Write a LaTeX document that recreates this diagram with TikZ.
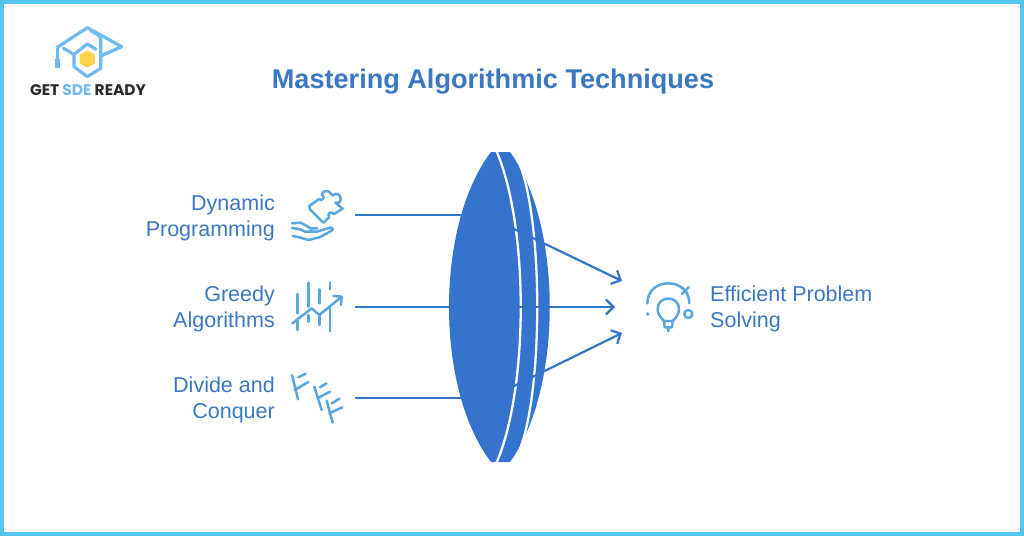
\documentclass[tikz,border=0pt]{standalone}
\usepackage{fontspec}
\setmainfont{Liberation Sans}
\newfontfamily\logofont{Poppins}
\usetikzlibrary{arrows.meta}
\definecolor{framec}{HTML}{55C6F4}
\definecolor{lensc}{HTML}{3574CE}
\definecolor{linec}{HTML}{3574CB}
\definecolor{textc}{HTML}{3B78C2}
\definecolor{iconc}{HTML}{5AA6E0}
\definecolor{logoc}{HTML}{6FB9F5}
\definecolor{hexc}{HTML}{FBD34D}
\definecolor{darkc}{HTML}{2B2B2B}
\tikzset{
  labelL/.style={align=right,anchor=east,font=\fontsize{21.5}{26}\selectfont,text=textc,inner sep=0pt},
  labelR/.style={align=left,anchor=west,font=\fontsize{21.5}{26}\selectfont,text=textc,inner sep=0pt},
  conn/.style={draw=linec,line width=2.2pt},
  connarrow/.style={conn,-{Straight Barb[length=7.5pt,width=15pt,line width=2.2pt]}},
  icon/.style={draw=iconc,line width=2.5pt,line cap=round,line join=round},
  logoline/.style={draw=logoc,line width=3.2pt,line join=round,line cap=round},
  whitearc/.style={draw=white,line width=2.3pt}
}
\begin{document}
\begin{tikzpicture}[x=1pt,y=-1pt]
\useasboundingbox (0,0) rectangle (1024,536);
\fill[white] (0,0) rectangle (1024,536);
\draw[framec,line width=3.6pt] (1.8,1.8) rectangle (1022.2,534.2);

% logo
\begin{scope}[shift={(0,0)},x=0.3333pt,y=-0.3333pt]
  \draw[logoline] (172,142) -- (262,83) -- (365,140) -- (302,168);
  \draw[logoline] (190,145) -- (222,163) -- (222,200) -- (262,230) -- (302,205) -- (302,118) .. controls (302,105) and (285,100) .. (272,92);
  \draw[logoline] (222,163) -- (262,132) -- (288,148);
  \draw[logoline] (172,142) -- (172,190);
  \draw[logoc,line width=4.6pt] (172,178) -- (172,203);
  \fill[hexc] (262,151) -- (285,164) -- (285,190) -- (262,203) -- (239,190) -- (239,164) -- cycle;
\end{scope}
\node[inner sep=0pt,anchor=center,font=\logofont\bfseries\fontsize{15.4}{18}\selectfont,text=darkc] (logotext) at (88,90) {GET \textcolor{logoc}{SDE} READY};

% title
\node[inner sep=0pt,font=\bfseries\fontsize{27.1}{32}\selectfont,text=textc] (title) at (493,82) {Mastering Algorithmic Techniques};

% labels
\node[labelL] (dp) at (275,218) {Dynamic\\Programming};
\node[labelL] (ga) at (275,309) {Greedy\\Algorithms};
\node[labelL] (dc) at (275,400) {Divide and\\Conquer};
\node[labelR] (eps) at (710,309) {Efficient Problem\\Solving};

% connector ends
\coordinate (in1) at (355,215);
\coordinate (in2) at (355,307);
\coordinate (in3) at (355,398);
\coordinate (lens1) at (470,215);
\coordinate (lens2) at (470,307);
\coordinate (lens3) at (470,398);
\coordinate (rayA) at (510,227);
\coordinate (rayB) at (510,307);
\coordinate (rayC) at (510,388);
\coordinate (outA) at (622,281);
\coordinate (outB) at (615,307);
\coordinate (outC) at (622,333);

% lens
\fill[lensc] (491,152) .. controls (435,225) and (435,389) .. (491,462) -- (510,462)
  .. controls (563,389) and (563,225) .. (510,152) -- cycle;
\draw[whitearc] (496,150) .. controls (529,225) and (529,389) .. (496,464);
\draw[whitearc] (520,165) .. controls (543,225) and (543,389) .. (520,449);

\draw[conn] (in1) -- (lens1);
\draw[conn] (in2) -- (lens2);
\draw[conn] (in3) -- (lens3);
\draw[connarrow] (rayA) -- (outA);
\draw[connarrow] (rayB) -- (outB);
\draw[connarrow] (rayC) -- (outC);

% puzzle + hand
\begin{scope}[shift={(280,180)},x=0.3333pt,y=-0.3333pt]
  \draw[icon] (88,78) -- (116,58) .. controls (132,64) and (134,50) .. (126,44)
    .. controls (126,30) and (148,30) .. (152,40) -- (158,47)
    .. controls (165,36) and (184,42) .. (182,58) .. controls (181,70) and (170,71) .. (166,68)
    -- (188,86) -- (162,102) .. controls (155,93) and (140,98) .. (147,112) -- (130,128)
    -- (90,88) -- cycle;
  \draw[icon] (36,130) -- (62,128) -- (92,145) -- (112,145)
    (36,144) -- (60,148) -- (75,155) -- (110,155) -- (150,143) .. controls (162,143) and (160,150) .. (150,155)
    -- (118,172) -- (85,180) -- (58,172) -- (38,168)
    (92,145) -- (95,155);
\end{scope}

% greedy icon
\begin{scope}[shift={(280,270)},x=0.3333pt,y=-0.3333pt]
  \draw[icon] (52,72) -- (52,130) (52,150) -- (52,180)
    (85,38) -- (85,110) (85,135) -- (85,155)
    (118,58) -- (118,100) (118,135) -- (118,165)
    (150,37) -- (150,58) (150,110) -- (150,184);
  \draw[icon] (37,160) -- (95,115) -- (118,135) -- (185,80)
    (160,78) -- (185,80) -- (183,105);
\end{scope}

% divide icon
\begin{scope}[shift={(280,270)},x=0.3333pt,y=-0.3333pt]
  \draw[icon] (36,315) -- (54,388) (44,360) -- (85,336) (55,322) -- (77,311);
  \draw[icon] (103,350) -- (125,420) (112,385) -- (150,365) (120,352) -- (140,340);
  \draw[icon] (140,392) -- (158,458) (148,430) -- (187,412) (155,400) -- (178,386);
\end{scope}

% bulb
\begin{scope}[shift={(630,270)},x=0.3333pt,y=-0.3333pt]
  \draw[icon] (52,100) .. controls (52,20) and (178,20) .. (178,100);
  \draw[icon] (155,72) -- (176,52) (158,55) -- (172,70);
  \fill[iconc] (53,132) circle (1.9pt);
  \draw[icon] (175,132) circle (4pt);
  \draw[icon] (102,153) .. controls (90,142) and (83,130) .. (83,117)
    .. controls (83,75) and (147,75) .. (147,117) .. controls (147,130) and (140,142) .. (128,153) -- cycle;
  \draw[icon] (102,153) -- (104,172) -- (126,172) -- (128,153) (115,172) -- (115,184);
\end{scope}
\end{tikzpicture}
\end{document}
